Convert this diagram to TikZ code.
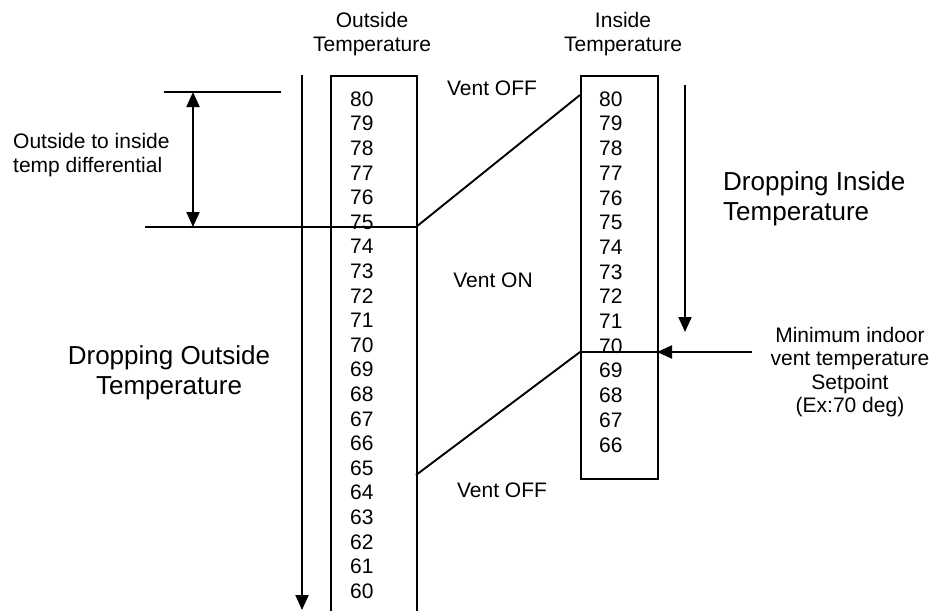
\documentclass[tikz,border=0pt]{standalone}
\usepackage{fontspec}
\setmainfont{Liberation Sans}
\usetikzlibrary{arrows.meta,positioning}

\begin{document}
\begin{tikzpicture}[
    x=1pt, y=-1pt,
    every node/.style={inner sep=0pt, font=\fontsize{21}{23.5}\selectfont},
    big/.style={font=\fontsize{26}{30}\selectfont},
    num/.style={anchor=west},
    line/.style={line width=1.9pt},
    arrow/.style={line width=1.9pt, -{Triangle[length=15pt, width=13pt]}},
    darrow/.style={line width=1.9pt, {Triangle[length=15pt, width=13pt]}-{Triangle[length=15pt, width=13pt]}}
]
    \useasboundingbox (0,0) rectangle (933,610);

    % titles
    \node[align=center] (OT) at (372,34) {Outside\\Temperature};
    \node[align=center] (IT) at (623,34) {Inside\\Temperature};

    % scales
    \node[draw, line, anchor=north west, minimum width=86pt, minimum height=560pt] (obox) at (330,75) {};
    \node[draw, line, anchor=north west, minimum width=77pt, minimum height=403pt] (ibox) at (580,75) {};
    \foreach \t [count=\i from 0] in {80,79,...,60}
        \node[num] (o\t) at (350, 99+24.6*\i) {\t};
    \foreach \t [count=\i from 0] in {80,79,...,66}
        \node[num] (i\t) at (599, 99+24.7*\i) {\t};

    % labels
    \node (V1) at (492,88) {Vent OFF};
    \node (V2) at (493,280) {Vent ON};
    \node (V3) at (502,490) {Vent OFF};
    \node[big, align=left, anchor=west] (DI) at (723,199) {Dropping Inside\\Temperature};
    \node[big, align=center] (DO) at (169,373) {Dropping Outside\\Temperature};
    \node[align=left, anchor=west] (DF) at (13,155) {Outside to inside\\temp differential};
    \node[align=center] (SP) at (850,372) {Minimum indoor\\vent temperature\\Setpoint\\(Ex:70 deg)};

    % points
    \coordinate (a75) at (416,227);
    \coordinate (a80) at (580,95);
    \coordinate (b65) at (416,475);
    \coordinate (b70) at (580,352);
    \coordinate (b70r) at (657,352);
    \coordinate (sp) at (752,352);
    \coordinate (t1) at (164,92);
    \coordinate (t2) at (281,92);
    \coordinate (l1) at (145,227);

    \draw[line] (a75) -- (a80);
    \draw[line] (b65) -- (b70) -- (b70r);
    \draw[arrow] (sp) -- (b70r);
    \draw[line] (t1) -- (t2);
    \draw[line] (l1) -- (a75);
    \draw[darrow] (t1 -| 193,0) -- (l1 -| 193,0);
    \draw[arrow] (302,75) -- (302,610);
    \draw[arrow] (685,85) -- (685,332);

\end{tikzpicture}
\end{document}
